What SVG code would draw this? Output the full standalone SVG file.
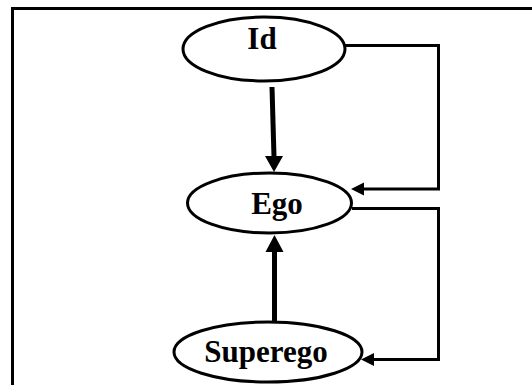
<svg xmlns="http://www.w3.org/2000/svg" width="532" height="385" viewBox="0 0 532 385">
  <defs>
    <style>
      .node ellipse { fill: #fff; stroke: #000; stroke-width: 3; }
      .node text { font-family: "Liberation Serif", "Times New Roman", serif; font-weight: bold; font-size: 31px; fill: #000; text-anchor: middle; }
      .thick { stroke: #000; stroke-width: 5; fill: none; }
      .thin { stroke: #000; stroke-width: 3; fill: none; }
      .head { fill: #000; stroke: none; }
    </style>
  </defs>
  <rect width="532" height="385" fill="#fff"/>
  <!-- frame, open to the right and bottom -->
  <path d="M12.5,390 V8.5 H540" fill="none" stroke="#000" stroke-width="3"/>

  <g id="connectors">
    <!-- Id to Ego -->
    <path class="thick" d="M272,87 L274,157"/>
    <polygon class="head" points="265,156 283,156 274,172"/>
    <!-- Superego to Ego -->
    <path class="thick" d="M274.5,322 V251"/>
    <polygon class="head" points="265.5,252 283.5,252 274.5,235"/>
    <!-- Id feedback loop into Ego -->
    <path class="thin" d="M345,45.5 H438.5 V189 H361"/>
    <polygon class="head" points="351,189 364,182.5 364,195.5"/>
    <!-- Ego loop into Superego -->
    <path class="thin" d="M352,208.5 H438.5 V359.5 H371"/>
    <polygon class="head" points="361,359.5 374,353 374,366"/>
  </g>

  <g id="id" class="node">
    <ellipse cx="264" cy="49" rx="81" ry="32"/>
    <text x="262" y="49">Id</text>
  </g>
  <g id="ego" class="node">
    <ellipse cx="269.5" cy="203" rx="82" ry="30"/>
    <text x="277" y="214">Ego</text>
  </g>
  <g id="superego" class="node">
    <ellipse cx="268" cy="352" rx="94" ry="30"/>
    <text x="266" y="362">Superego</text>
  </g>
</svg>
